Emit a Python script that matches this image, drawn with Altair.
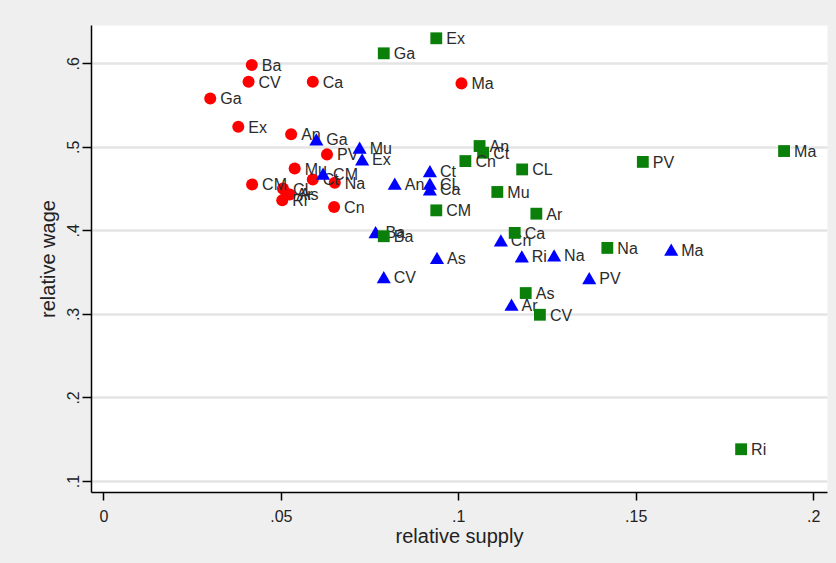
import altair as alt
import pandas as pd

# Relative supply vs relative wage by region, three groups
red_labels = ["Ba", "CV", "Ca", "Ga", "Ex", "An", "Ma", "PV", "Mu", "CM",
              "Ct", "Na", "Cn", "CL", "As", "Ar", "Ri"]
red_x = [0.0418, 0.0409, 0.0590, 0.0301, 0.0380, 0.0529, 0.1009, 0.0630, 0.0539,
         0.0419, 0.0590, 0.0652, 0.0650, 0.0506, 0.0525, 0.0516, 0.0504]
red_y = [0.598, 0.578, 0.578, 0.558, 0.524, 0.515, 0.576, 0.491, 0.474,
         0.455, 0.461, 0.457, 0.428, 0.450, 0.443, 0.444, 0.436]

blue_labels = ["Ga", "Mu", "Ex", "CM", "Ct", "An", "CL", "Ca", "Ba", "As",
               "CV", "Cn", "Ri", "Na", "PV", "Ma", "Ar"]
blue_x = [0.0600, 0.0722, 0.0729, 0.0619, 0.0920, 0.0821, 0.0920, 0.0920, 0.0767,
          0.0940, 0.0790, 0.1120, 0.1179, 0.1270, 0.1369, 0.1600, 0.1150]
blue_y = [0.509, 0.499, 0.485, 0.468, 0.471, 0.456, 0.456, 0.449, 0.398,
          0.367, 0.344, 0.388, 0.369, 0.370, 0.343, 0.377, 0.311]

green_labels = ["Ex", "Ga", "An", "Ct", "Cn", "CL", "PV", "Mu", "CM", "Ar",
                "Ca", "Ba", "Na", "As", "CV", "Ma", "Ri"]
green_x = [0.0938, 0.0790, 0.1060, 0.1070, 0.1020, 0.1180, 0.1520, 0.1110, 0.0938,
           0.1220, 0.1159, 0.0790, 0.1420, 0.1190, 0.1230, 0.1918, 0.1797]
green_y = [0.630, 0.612, 0.501, 0.493, 0.483, 0.473, 0.482, 0.446, 0.424,
           0.420, 0.397, 0.393, 0.379, 0.325, 0.299, 0.495, 0.138]

x_ticks = [0, 0.05, 0.1, 0.15, 0.2]
y_ticks = [0.1, 0.2, 0.3, 0.4, 0.5, 0.6]

FONT = "Liberation Sans, Arial, Helvetica, sans-serif"
strip_zero = "datum.value == 0 ? '0' : substring(toString(datum.value), 1)"


def frame(labels, xs, ys):
    return pd.DataFrame({"region": labels, "supply": xs, "wage": ys})


X = alt.X("supply:Q",
          scale=alt.Scale(domain=[-0.0035, 0.2039], nice=False, zero=False),
          axis=alt.Axis(values=x_ticks, labelExpr=strip_zero, grid=False,
                        title="relative supply", tickSize=8, labelPadding=8,
                        titlePadding=2))
Y = alt.Y("wage:Q",
          scale=alt.Scale(domain=[0.0868, 0.6459], nice=False, zero=False),
          axis=alt.Axis(values=y_ticks, labelExpr=strip_zero, grid=True,
                        title="relative wage", tickSize=9, labelAngle=270,
                        labelAlign="center", labelBaseline="bottom",
                        labelPadding=1, titlePadding=7))


def series(df, shape, size, color):
    pts = alt.Chart(df).mark_point(
        shape=shape, size=size, filled=True, color=color, opacity=1
    ).encode(x=X, y=Y)
    txt = alt.Chart(df).mark_text(
        align="left", baseline="middle", dx=10, dy=1, font=FONT,
        fontSize=16, color="#2b2b2b"
    ).encode(x=X, y=Y, text="region:N")
    return [pts, txt]


layers = (series(frame(red_labels, red_x, red_y), "circle", 145, "#ff0000")
          + series(frame(blue_labels, blue_x, blue_y), "triangle-up", 200, "#0000ff")
          + series(frame(green_labels, green_x, green_y), "square", 140, "#0a800a"))

chart = alt.layer(*layers).properties(
    width=736, height=467,
    autosize="none",
    padding={"left": 91, "top": 25, "right": 9, "bottom": 71},
    background="#efefef",
).configure_view(
    fill="white", stroke="transparent"
).configure_axis(
    domainColor="#000000", domainWidth=1.5,
    tickColor="#000000", tickWidth=1.5,
    gridColor="#e4e4e4", gridWidth=2.5,
    labelFont=FONT, labelFontSize=16, labelColor="#222222",
    titleFont=FONT, titleFontSize=20, titleFontWeight="normal",
    titleColor="#222222",
)

chart.save("out.html", embed_options={"renderer": "svg", "actions": False})
